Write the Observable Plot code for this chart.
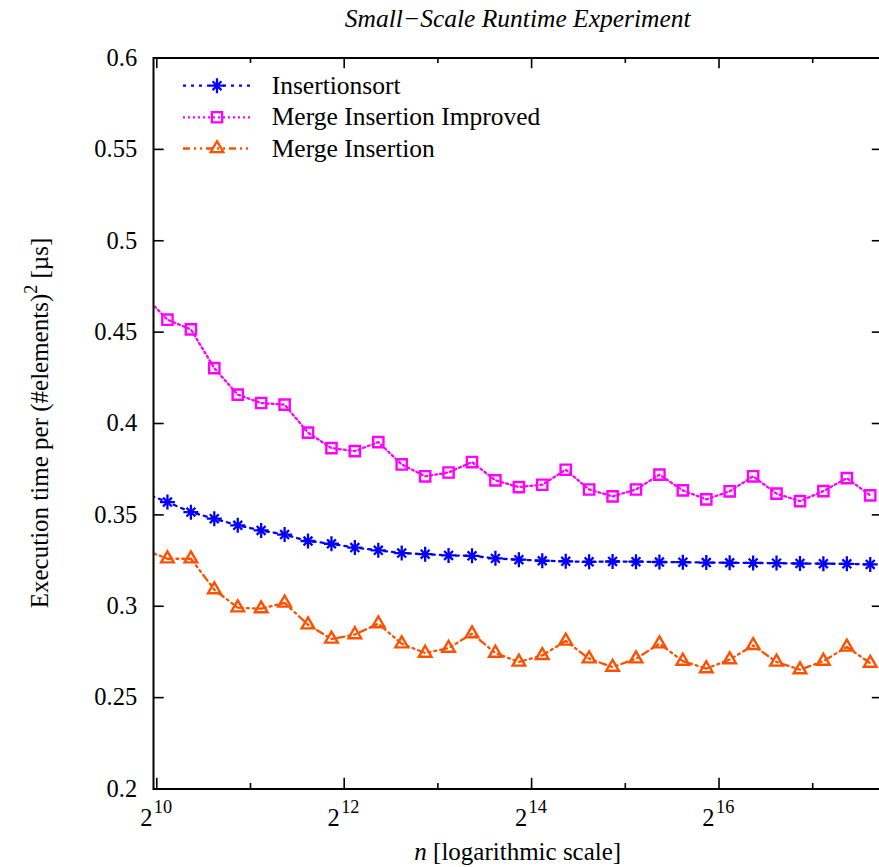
<!DOCTYPE html>
<html>
<head>
<meta charset="utf-8">
<script src="https://cdn.jsdelivr.net/npm/d3@7"></script>
<script src="https://cdn.jsdelivr.net/npm/@observablehq/plot@0.6"></script>
<style>
  html, body { margin: 0; padding: 0; background: #fff; overflow: hidden; }
  #wrap { width: 879px; height: 867px; overflow: hidden; position: relative; }
  #wrap svg { display: block; max-width: none !important; width: 884px !important; height: 867px !important; }
</style>
</head>
<body>
<div id="wrap"></div>
<script>
// ---------------- data ----------------
const titleText = "Small\u2212Scale Runtime Experiment";
const seriesNames = ["Insertionsort", "Merge Insertion Improved", "Merge Insertion"];
const seriesColors = ["#0000ff", "#ff00ff", "#ff5000"];

// number of elements n (first point lies left of the visible range and is clipped)
const sizes = [932, 1108, 1318, 1567, 1864, 2216, 2636, 3134, 3728, 4432, 5272, 6268,
  7456, 8864, 10544, 12536, 14912, 17728, 21088, 25072, 29824, 35456, 42176, 50144,
  59648, 70912, 84352, 100288, 119296, 141824, 168704, 200576];

const insertionsort = [0.362, 0.3570, 0.3515, 0.3479, 0.3443, 0.3415, 0.3392, 0.3357,
  0.3342, 0.3321, 0.3306, 0.3291, 0.3285, 0.3278, 0.3276, 0.3262, 0.3255, 0.3249,
  0.3246, 0.3243, 0.3245, 0.3244, 0.3242, 0.3241, 0.3239, 0.3238, 0.3237, 0.3236,
  0.3234, 0.3233, 0.3232, 0.3229];

const mergeInsertionImproved = [0.470, 0.4568, 0.4515, 0.4303, 0.4158, 0.4112, 0.4103,
  0.3950, 0.3865, 0.3849, 0.3898, 0.3776, 0.3711, 0.3732, 0.3789, 0.3689, 0.3652,
  0.3665, 0.3747, 0.3639, 0.3601, 0.3639, 0.3720, 0.3634, 0.3585, 0.3629, 0.3711,
  0.3616, 0.3575, 0.3630, 0.3701, 0.3607];

const mergeInsertion = [0.331, 0.3260, 0.3260, 0.3091, 0.2992, 0.2987, 0.3018, 0.2899,
  0.2821, 0.2845, 0.2905, 0.2795, 0.2744, 0.2771, 0.2850, 0.2744, 0.2695, 0.2731,
  0.2810, 0.2713, 0.2667, 0.2713, 0.2795, 0.2700, 0.2659, 0.2708, 0.2786, 0.2695,
  0.2653, 0.2700, 0.2777, 0.2689];

const yTicks = [0.2, 0.25, 0.3, 0.35, 0.4, 0.45, 0.5, 0.55, 0.6];
const yTickLabels = ["0.2", "0.25", "0.3", "0.35", "0.4", "0.45", "0.5", "0.55", "0.6"];
const xMajorExponents = [10, 12, 14, 16];
const xMinorExponents = [11, 13, 15, 17];
const xDomainExponents = [9.965, 17.75];
const yDomain = [0.2, 0.6];

// ---------------- layout ----------------
const W = 884, H = 867;
const M = { left: 153, right: 1.5, top: 57.5, bottom: 78.5 };
const plotW = W - M.left - M.right;
const plotH = H - M.top - M.bottom;
const FONT = "'Liberation Serif', 'Times New Roman', Times, serif";

const styles = [
  { dash: "3,5" },
  { dash: "2,3" },
  { dash: "7,4,2,4,2,4" }
];

const allSeries = [insertionsort, mergeInsertionImproved, mergeInsertion];
const rowsFor = (vals) => sizes.map((n, i) => ({ n, v: vals[i], i }));

const marks = [];
allSeries.forEach((vals, s) => {
  marks.push(Plot.line(rowsFor(vals), {
    x: "n", y: "v", stroke: seriesColors[s], strokeWidth: 2.3,
    strokeDasharray: styles[s].dash, clip: true
  }));
});
const visible = (vals) => rowsFor(vals).filter(d => d.i > 0);
// Insertionsort: asterisk (plus + times)
marks.push(Plot.dot(visible(insertionsort), { x: "n", y: "v", symbol: "plus", r: 4.9, stroke: seriesColors[0], strokeWidth: 2.3, clip: true }));
marks.push(Plot.dot(visible(insertionsort), { x: "n", y: "v", symbol: "times", r: 4.1, stroke: seriesColors[0], strokeWidth: 2.3, clip: true }));
// Merge Insertion Improved: open square
marks.push(Plot.dot(visible(mergeInsertionImproved), { x: "n", y: "v", symbol: "square", r: 5.8, fill: "none", stroke: seriesColors[1], strokeWidth: 2.4, clip: true }));
// Merge Insertion: open triangle
marks.push(Plot.dot(visible(mergeInsertion), { x: "n", y: "v", symbol: "triangle", r: 4.7, fill: "none", stroke: seriesColors[2], strokeWidth: 2.4, clip: true }));

// ticks (inward, all four sides)
const TL = 10.7, TLm = 5.5;
marks.push(Plot.tickY(yTicks, { y: d => d, stroke: "black", strokeWidth: 1.6, insetRight: plotW - TL }));
marks.push(Plot.tickY(yTicks, { y: d => d, stroke: "black", strokeWidth: 1.6, insetLeft: plotW - TL }));
marks.push(Plot.tickX(xMajorExponents, { x: e => 2 ** e, stroke: "black", strokeWidth: 1.6, insetTop: plotH - TL }));
marks.push(Plot.tickX(xMajorExponents, { x: e => 2 ** e, stroke: "black", strokeWidth: 1.6, insetBottom: plotH - TL }));
marks.push(Plot.tickX(xMinorExponents, { x: e => 2 ** e, stroke: "black", strokeWidth: 1.6, insetTop: plotH - TLm }));
marks.push(Plot.tickX(xMinorExponents, { x: e => 2 ** e, stroke: "black", strokeWidth: 1.6, insetBottom: plotH - TLm }));

// tick labels
marks.push(Plot.text(yTicks, {
  y: d => d, frameAnchor: "left", text: (d, i) => yTickLabels[i],
  textAnchor: "end", lineAnchor: "middle", dx: -16.3, fontSize: 24.5, fill: "black"
}));
marks.push(Plot.text(xMajorExponents, {
  x: e => 2 ** e, frameAnchor: "bottom", text: () => "2",
  textAnchor: "end", lineAnchor: "middle", dx: -4.4, dy: 28.7, fontSize: 24.5, fill: "black"
}));
marks.push(Plot.text(xMajorExponents, {
  x: e => 2 ** e, frameAnchor: "bottom", text: e => String(e),
  textAnchor: "start", lineAnchor: "middle", dx: -3, dy: 18.3, fontSize: 18.3, fill: "black"
}));

marks.push(Plot.frame({ stroke: "black", strokeWidth: 2 }));

const chart = Plot.plot({
  width: W, height: H,
  marginLeft: M.left, marginRight: M.right, marginTop: M.top, marginBottom: M.bottom,
  x: { type: "log", base: 2, domain: xDomainExponents.map(e => 2 ** e), axis: null },
  y: { domain: yDomain, axis: null },
  style: { fontFamily: FONT, fontSize: "24px", background: "white", color: "black", maxWidth: "none" },
  marks
});

document.getElementById("wrap").appendChild(chart);

// ---------------- decorations: title, axis labels, legend ----------------
const svg = d3.select(chart);
const cx = M.left + plotW / 2;

svg.append("text")
  .attr("x", cx).attr("y", 27)
  .attr("text-anchor", "middle")
  .attr("font-family", FONT).attr("font-size", 25.5).attr("font-style", "italic")
  .attr("fill", "black")
  .text(titleText);

const xl = svg.append("text")
  .attr("x", cx).attr("y", 860)
  .attr("text-anchor", "middle")
  .attr("font-family", FONT).attr("font-size", 25).attr("fill", "black");
xl.append("tspan").attr("font-style", "italic").text("n");
xl.append("tspan").text(" [logarithmic scale]");

const yl = svg.append("text")
  .attr("transform", `translate(48,${M.top + plotH / 2}) rotate(-90)`)
  .attr("text-anchor", "middle")
  .attr("font-family", FONT).attr("font-size", 25).attr("fill", "black");
yl.append("tspan").text("Execution time per (#elements)");
yl.append("tspan").attr("dy", -11).attr("font-size", 18).text("2");
yl.append("tspan").attr("dy", 11).text(" [\u00b5s]");

// legend
const legendRows = [85.7, 117.3, 148.5];
const symbolsFor = [
  [[d3.symbolPlus, 4.9], [d3.symbolTimes, 4.1]],
  [[d3.symbolSquare, 5.8]],
  [[d3.symbolTriangle, 4.7]]
];
const lg = svg.append("g");
seriesNames.forEach((name, s) => {
  const y = legendRows[s];
  lg.append("line")
    .attr("x1", 183).attr("x2", 251).attr("y1", y).attr("y2", y)
    .attr("stroke", seriesColors[s]).attr("stroke-width", 2.3)
    .attr("stroke-dasharray", styles[s].dash);
  symbolsFor[s].forEach(([sym, r]) => {
    lg.append("path")
      .attr("transform", `translate(217,${y})`)
      .attr("d", d3.symbol(sym, Math.PI * r * r)())
      .attr("fill", "none").attr("stroke", seriesColors[s]).attr("stroke-width", 2.3);
  });
  lg.append("text")
    .attr("x", 271.7).attr("y", y + 8)
    .attr("text-anchor", "start")
    .attr("font-family", FONT).attr("font-size", 25.5).attr("fill", "black")
    .text(name);
});
</script>
</body>
</html>
